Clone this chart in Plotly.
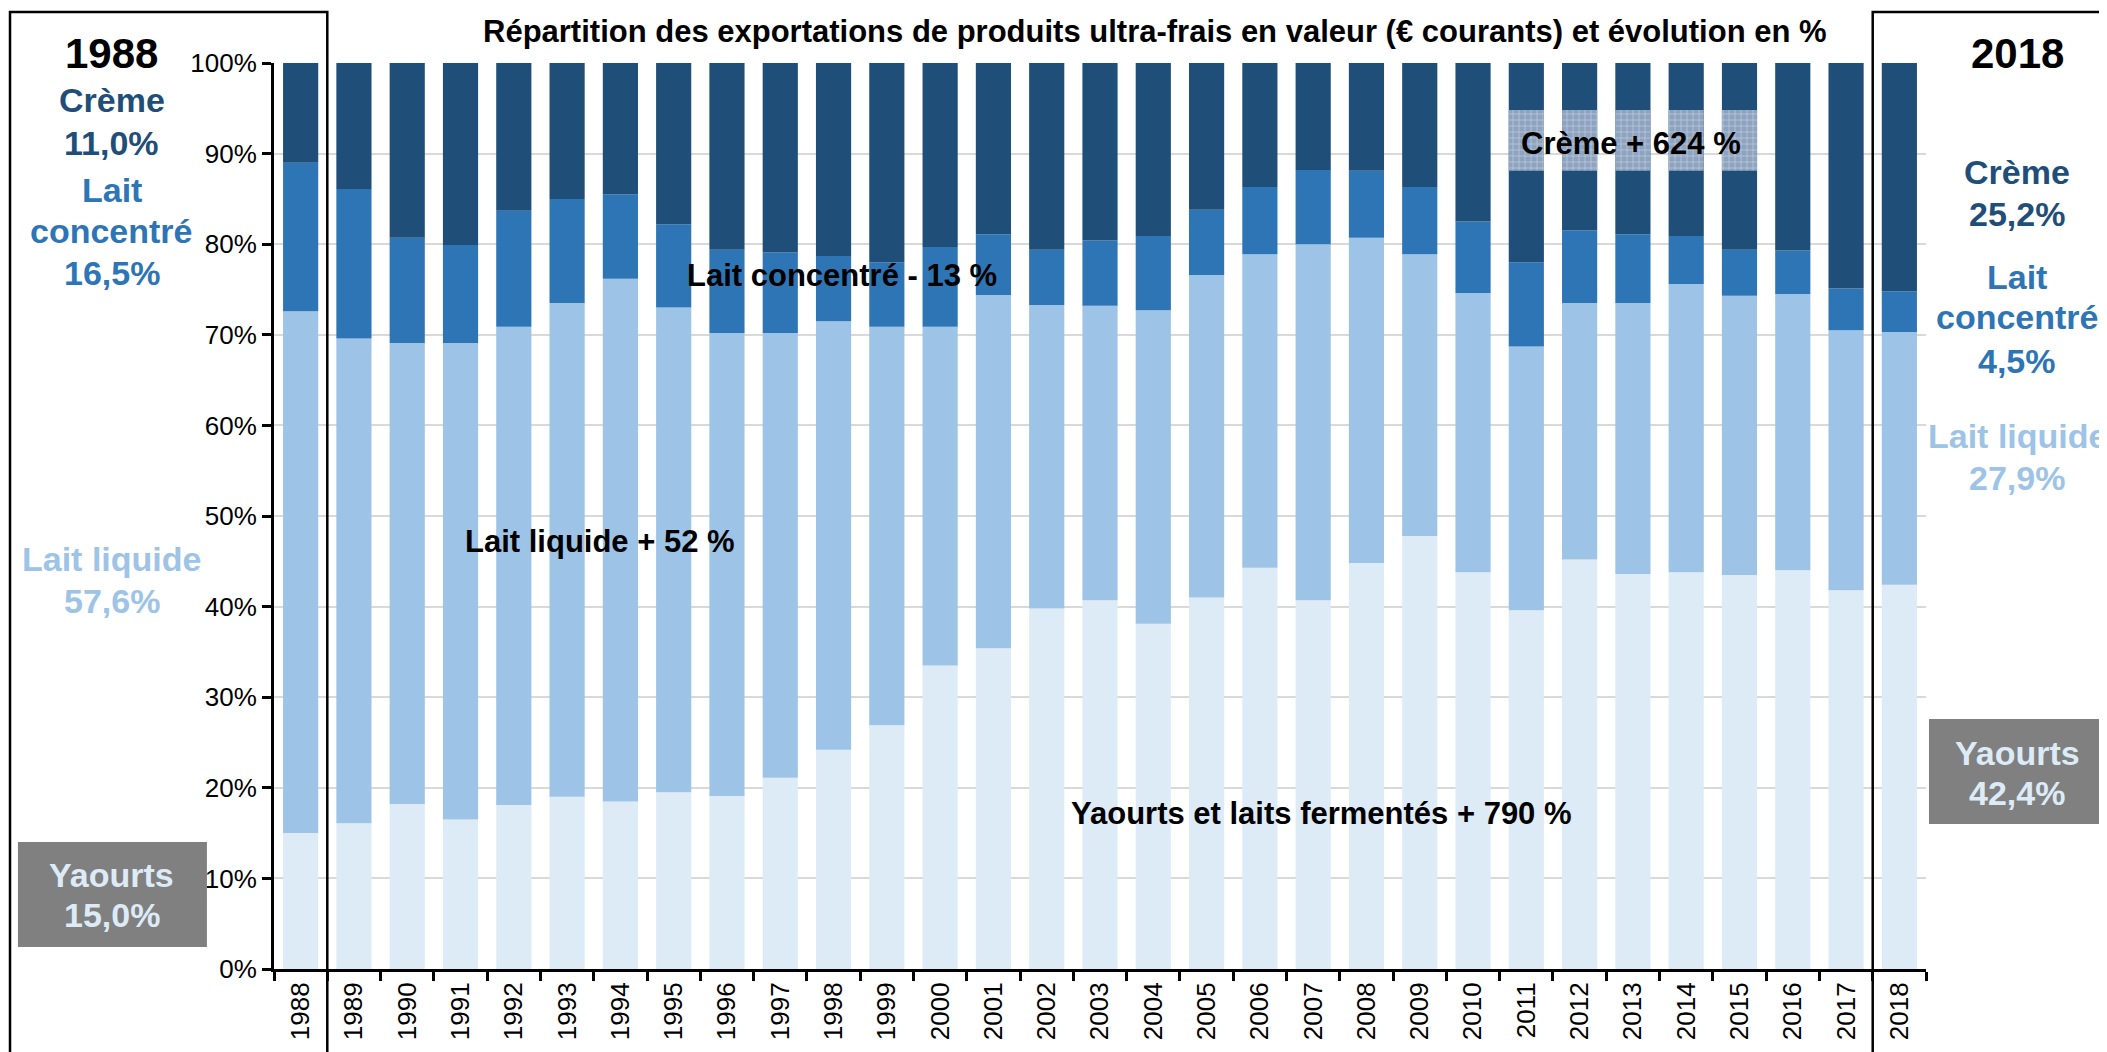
import plotly.graph_objects as go

# parts of the ultra-fresh exports value (%), per year
years = [str(y) for y in range(1988, 2019)]
yaourts = [15.0, 16.1, 18.2, 16.5, 18.1, 19.0, 18.5, 19.5, 19.1, 21.1,
           24.2, 26.9, 33.5, 35.4, 39.8, 40.7, 38.1, 41.0, 44.3, 40.7,
           44.8, 47.8, 43.8, 39.6, 45.2, 43.6, 43.8, 43.5, 44.0, 41.8, 42.4]
lait_liquide = [57.6, 53.5, 50.9, 52.6, 52.8, 54.5, 57.7, 53.5, 51.1, 49.1,
                47.3, 44.0, 37.4, 39.0, 33.5, 32.5, 34.6, 35.6, 34.6, 39.3,
                35.9, 31.1, 30.8, 29.1, 28.3, 29.9, 31.8, 30.8, 30.5, 28.7, 27.9]
lait_concentre = [16.4, 16.5, 11.6, 10.8, 12.8, 11.5, 9.3, 9.2, 9.2, 8.9,
                  7.2, 7.1, 8.8, 6.7, 6.1, 7.2, 8.2, 7.2, 7.4, 8.2,
                  7.4, 7.4, 7.9, 9.3, 8.0, 7.6, 5.3, 5.1, 4.8, 4.6, 4.5]
creme = [11.0, 13.9, 19.3, 20.1, 16.3, 15.0, 14.5, 17.8, 20.6, 20.9,
         21.3, 22.0, 20.3, 18.9, 20.6, 19.6, 19.1, 16.2, 13.7, 11.8,
         11.9, 13.7, 17.5, 22.0, 18.5, 18.9, 19.1, 20.6, 20.7, 24.9, 25.2]

# hatched band behind the "Crème + 624 %" label
band_years = ['2011', '2012', '2013', '2014', '2015']
band_low = [88.1] * 5
band_high = [94.8] * 5

series = [('Yaourts et laits fermentés', yaourts, '#DDEBF7'),
          ('Lait liquide', lait_liquide, '#9DC3E6'),
          ('Lait concentré', lait_concentre, '#2E75B6'),
          ('Crème', creme, '#1F4E79')]

FONT = 'Liberation Sans, Arial, sans-serif'

fig = go.Figure()
base = [0.0] * len(years)
for name, vals, col in series:
    fig.add_trace(go.Bar(x=years, y=vals, base=list(base), name=name,
                         marker=dict(color=col, line=dict(width=0))))
    base = [b + v for b, v in zip(base, vals)]

fig.add_trace(go.Bar(x=band_years, y=[h - l for h, l in zip(band_high, band_low)],
                     base=band_low, name='band',
                     marker=dict(color='#8DA3BF', line=dict(width=0),
                                 pattern=dict(shape='+', size=6, solidity=0.2,
                                              fgcolor='white', bgcolor='#8DA3BF'))))

# the page adds an 8px body margin, so the plot box is placed 8px up/left
fig.update_layout(
    width=2107, height=1052, autosize=False,
    margin=dict(l=266, r=189, t=55, b=91),
    barmode='overlay', bargap=0.34,
    plot_bgcolor='white', paper_bgcolor='white',
    showlegend=False,
    font=dict(family=FONT, size=26, color='black'),
)
fig.update_xaxes(type='category', tickangle=-90, tickson='boundaries',
                 ticks='outside', ticklen=9, tickwidth=2.5, tickcolor='black',
                 showline=True, linecolor='black', linewidth=3,
                 showgrid=False, tickfont=dict(size=26), automargin=False)
fig.update_yaxes(range=[0, 100], dtick=10, ticksuffix='%',
                 ticks='outside', ticklen=9, tickwidth=2.5, tickcolor='black',
                 showline=True, linecolor='black', linewidth=3,
                 showgrid=True, gridcolor='#D9D9D9', gridwidth=2,
                 zeroline=False, tickfont=dict(size=26), automargin=False)

# framed boxes for 1988 and 2018
for x0, x1 in [(-0.1598, 1 / 31), (30 / 31, 1.1077)]:
    fig.add_shape(type='rect', xref='paper', yref='paper',
                  x0=x0, x1=x1, y0=-0.2, y1=1.0563,
                  line=dict(color='black', width=2.5), layer='above')

# grey boxes for yoghurts
for x0, x1, y0, y1 in [(-0.155, -0.0406, 0.0243, 0.1402),
                       (1.0018, 1.1077, 0.1600, 0.2759)]:
    fig.add_shape(type='rect', xref='paper', yref='paper',
                  x0=x0, x1=x1, y0=y0, y1=y1,
                  fillcolor='#808080', line=dict(width=0), layer='above')


def side_text(txt, x, y, color, size=34):
    fig.add_annotation(text=txt, xref='paper', yref='paper', x=x, y=y,
                       showarrow=False, xanchor='center', yanchor='middle',
                       font=dict(family=FONT, size=size, color=color, weight='bold'))


# left side, 1988
side_text('1988', -0.0981, 1.0110, 'black', 42)
side_text('Crème', -0.0981, 0.9592, '#1F4E79')
side_text('11,0%', -0.0981, 0.9117, '#1F4E79')
side_text('Lait', -0.0981, 0.8598, '#2E75B6')
side_text('concentré', -0.0981, 0.8150, '#2E75B6')
side_text('16,5%', -0.0981, 0.7682, '#2E75B6')
side_text('Lait liquide', -0.0981, 0.4525, '#9DC3E6')
side_text('57,6%', -0.0981, 0.4062, '#9DC3E6')
side_text('Yaourts', -0.0981, 0.1038, '#DDEBF7')
side_text('15,0%', -0.0981, 0.0596, '#DDEBF7')

# right side, 2018
side_text('2018', 1.0551, 1.0110, 'black', 42)
side_text('Crème', 1.0551, 0.8797, '#1F4E79')
side_text('25,2%', 1.0551, 0.8333, '#1F4E79')
side_text('Lait', 1.0551, 0.7638, '#2E75B6')
side_text('concentré', 1.0551, 0.7200, '#2E75B6')
side_text('4,5%', 1.0551, 0.6711, '#2E75B6')
side_text('Lait liquide', 1.0551, 0.5883, '#9DC3E6')
side_text('27,9%', 1.0551, 0.5419, '#9DC3E6')
side_text('Yaourts', 1.0551, 0.2384, '#DDEBF7')
side_text('42,4%', 1.0551, 0.1943, '#DDEBF7')

# title
fig.add_annotation(text='Répartition des exportations de produits ultra-frais en valeur (€ courants) et évolution en %',
                   xref='paper', yref='paper', x=0.5333, y=1.0353,
                   showarrow=False, xanchor='center', yanchor='middle',
                   font=dict(family=FONT, size=31, color='black', weight='bold'))

# evolution labels inside the plot
for txt, x, y in [('Lait concentré - 13 %', 10.16, 76.5),
                  ('Lait liquide + 52 %', 5.62, 47.2),
                  ('Yaourts et laits fermentés + 790 %', 19.15, 17.2),
                  ('Crème + 624 %', 24.96, 91.1)]:
    fig.add_annotation(text=txt, xref='x', yref='y', x=x, y=y,
                       showarrow=False, xanchor='center', yanchor='middle',
                       font=dict(family=FONT, size=31, color='black', weight='bold'))

fig.write_html("out.html")
